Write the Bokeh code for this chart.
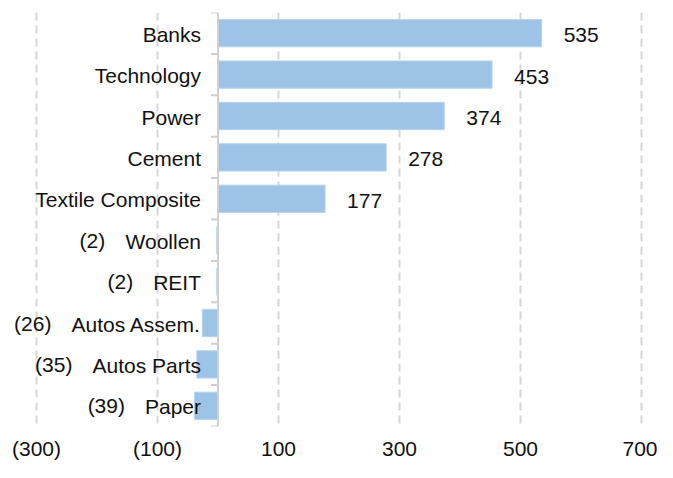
from bokeh.plotting import figure
from bokeh.models import ColumnDataSource, Range1d, FixedTicker, Span
from bokeh.embed import file_html
from bokeh.resources import INLINE
from bokeh.core.properties import value

# ---- data ----
categories = ["Banks", "Technology", "Power", "Cement", "Textile Composite",
              "Woollen", "REIT", "Autos Assem.", "Autos Parts", "Paper"]
values = [535, 453, 374, 278, 177, -2, -2, -26, -35, -39]
tick_values = [-300, -100, 100, 300, 500, 700]
tick_labels = ["(300)", "(100)", "100", "300", "500", "700"]

# ---- layout ----
W, H = 657, 462
MT, MB = 12, 29
FONT = "Liberation Sans"
FS = 21
# pixel where first/last tick should sit
PX_FIRST, PX_LAST = 36, 641
px_per_unit = (PX_LAST - PX_FIRST) / (tick_values[-1] - tick_values[0])
X0 = tick_values[0] - PX_FIRST / px_per_unit
X1 = tick_values[-1] + (W - PX_LAST) / px_per_unit

# Arial / Liberation Sans advance widths (per 1000 em)
AW = {" ": 278, "(": 333, ")": 333, ".": 278, "A": 667, "B": 667, "C": 722,
      "E": 667, "I": 278, "P": 667, "R": 722, "T": 611, "W": 944, "a": 556,
      "c": 500, "e": 556, "g": 556, "h": 556, "i": 222, "k": 500, "l": 222,
      "m": 833, "n": 556, "o": 556, "p": 556, "r": 333, "s": 500, "t": 278,
      "u": 556, "w": 722, "x": 500, "y": 500}


def text_w(s):
    return sum(AW.get(c, 556) for c in s) * FS / 1000.0


def fmt(v):
    return f"({abs(v)})" if v < 0 else f"{v}"


n = len(categories)
ys = [i + 0.5 for i in range(n)]
src = ColumnDataSource(dict(cat=categories, val=values, y=ys,
                            zero=[0] * n, lab=[fmt(v) for v in values]))

p = figure(width=W, height=H, output_backend="svg", toolbar_location=None,
           x_range=Range1d(X0, X1), y_range=Range1d(n, 0),
           y_axis_location=None,
           min_border_left=0, min_border_right=0,
           min_border_top=MT, min_border_bottom=MB)
p.outline_line_color = None
p.background_fill_color = "white"
p.border_fill_color = "white"

# grid
p.ygrid.visible = False
p.xgrid.ticker = FixedTicker(ticks=tick_values)
p.xgrid.grid_line_color = "#d6d6d6"
p.xgrid.grid_line_width = 2
p.xgrid.grid_line_dash = "8 5"

# x axis
xa = p.xaxis[0]
xa.ticker = FixedTicker(ticks=tick_values)
xa.major_label_overrides = {t: l for t, l in zip(tick_values, tick_labels)}
xa.axis_line_color = None
xa.major_tick_line_color = None
xa.minor_tick_line_color = None
xa.major_label_text_font = FONT
xa.major_label_text_font_size = f"{FS}px"
xa.major_label_text_color = "#111111"
xa.major_label_standoff = 4

# bars
p.hbar(y="y", left="zero", right="val", height=0.66, source=src,
       fill_color="#9dc3e6", line_color="#b8d4ee", line_width=1)

# vertical category axis at zero
p.add_layout(Span(location=0, dimension="height", line_color="#cfcfcf",
                  line_width=2))
tick_len = 7 / px_per_unit
p.segment(x0=[-tick_len] * (n + 1), x1=[0] * (n + 1),
          y0=list(range(n + 1)), y1=list(range(n + 1)),
          line_color="#cfcfcf", line_width=2)

# category labels
p.text(x="zero", y="y", text="cat", source=src, x_offset=-17, y_offset=1,
       text_align="right", text_baseline="middle", text_font=value(FONT),
       text_font_size=f"{FS}px", text_color="#111111")

# value labels
pos = [i for i, v in enumerate(values) if v >= 0]
neg = [i for i, v in enumerate(values) if v < 0]
p.text(x=[values[i] for i in pos], y=[ys[i] for i in pos],
       text=[fmt(values[i]) for i in pos], x_offset=22, y_offset=2,
       text_align="left", text_baseline="middle", text_font=value(FONT),
       text_font_size=f"{FS}px", text_color="#111111")
neg_off = [-(17 + text_w(categories[i]) + 20) for i in neg]
p.text(x=[0] * len(neg), y=[ys[i] for i in neg],
       text=[fmt(values[i]) for i in neg], x_offset=neg_off, y_offset=0,
       text_align="right", text_baseline="middle", text_font=value(FONT),
       text_font_size=f"{FS}px", text_color="#111111")

open("out.html", "w").write(file_html(p, INLINE))
